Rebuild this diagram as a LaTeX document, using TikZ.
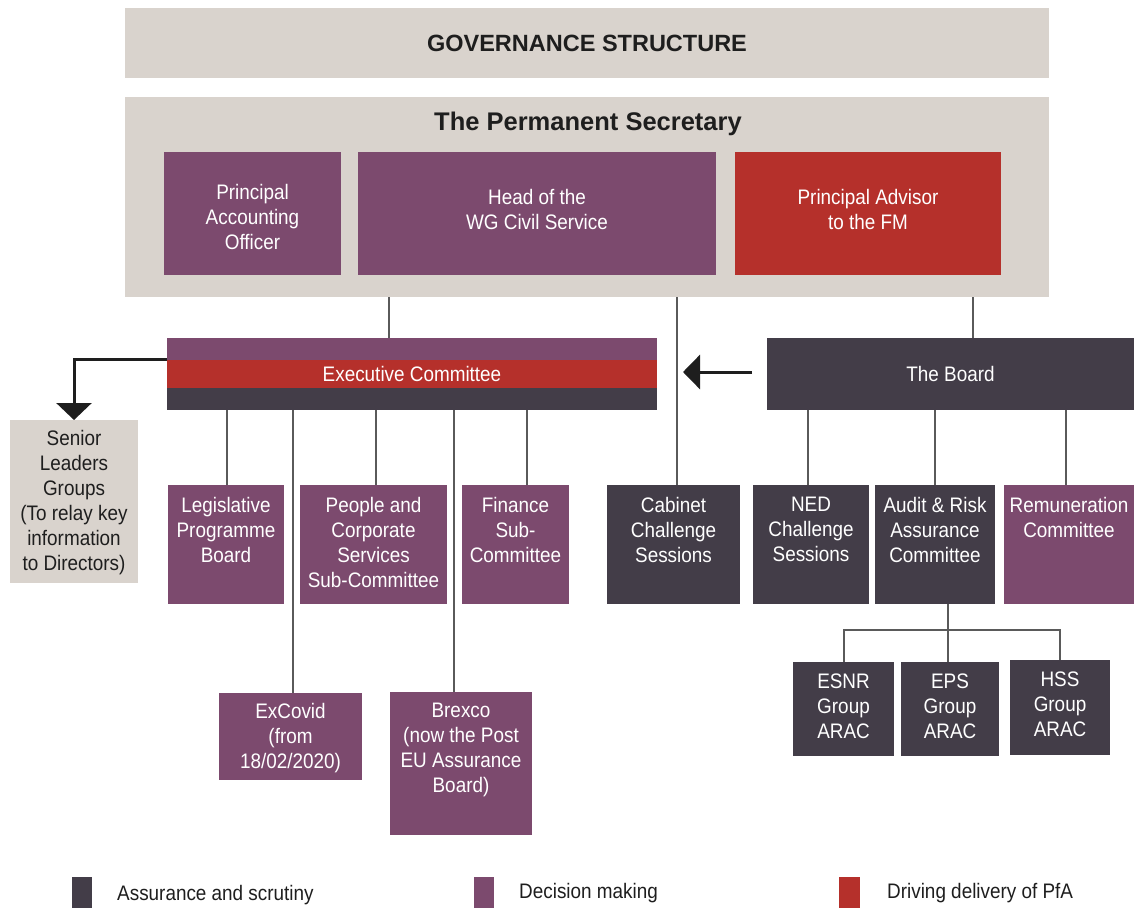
\documentclass[tikz,border=0pt]{standalone}
\usepackage{fontspec}
\setmainfont{Liberation Sans}
\newfontfamily\bxf[FakeStretch=0.9]{Liberation Sans}
\usetikzlibrary{arrows.meta,calc}
\definecolor{beige}{HTML}{D9D3CD}
\definecolor{purp}{HTML}{7C4A6E}
\definecolor{redd}{HTML}{B5302B}
\definecolor{dark}{HTML}{433D48}
\definecolor{lin}{HTML}{5A5A5A}
\definecolor{ink}{HTML}{1E1E1E}
\newcommand\tb[4][12]{\parbox[c][#3pt][t]{#2pt}{\centering\vspace*{#1pt}#4\par}}
\begin{document}
\begin{tikzpicture}[x=1pt,y=-1pt,
  bx/.style={inner sep=0pt, outer sep=0pt, anchor=north west, text=white, font=\bxf\fontsize{21}{25}\selectfont},
  pbx/.style={bx, fill=purp},
  dbx/.style={bx, fill=dark},
  rbx/.style={bx, fill=redd},
  gbx/.style={bx, fill=beige, text=ink},
  conn/.style={draw=lin, line width=2pt},
  arr/.style={draw=ink, line width=3pt, -{Triangle[width=35pt,length=17pt]}},
  lgd/.style={anchor=west, inner sep=0pt, text=ink, font=\bxf\fontsize{21}{25}\selectfont},
  hd/.style={inner sep=0pt, text=ink, font=\bfseries\fontsize{23.5}{28}\selectfont},
]
\useasboundingbox (0,0) rectangle (1134,908);

% x positions of connectors
\coordinate (xps1) at (389,0);
\coordinate (xcab) at (677,0);
\coordinate (xbrd) at (973,0);
\coordinate (xlpb) at (227,0);
\coordinate (xexc) at (293,0);
\coordinate (xpcs) at (376,0);
\coordinate (xbrx) at (454,0);
\coordinate (xfin) at (527,0);
\coordinate (xned) at (808,0);
\coordinate (xarc) at (935,0);
\coordinate (xrem) at (1066,0);
\coordinate (bus) at (948,630);

% header boxes
\node[gbx, minimum width=924pt, minimum height=70pt] (title) at (125,8) {};
\node[hd] (titletext) at (title.center) {GOVERNANCE STRUCTURE};
\node[gbx, minimum width=924pt, minimum height=200pt] (ps) at (125,97) {};
\node[hd, font=\bfseries\fontsize{25.5}{30}\selectfont] (pstext) at (588,124) {The Permanent Secretary};

\node[pbx] (pao) at (164,152) {\tb[32]{177}{123}{Principal\\Accounting\\Officer}};
\node[pbx] (head) at (358,152) {\tb[37]{358}{123}{Head of the\\WG Civil Service}};
\node[rbx] (pafm) at (735,152) {\tb[37]{266}{123}{Principal Advisor\\to the FM}};

% connectors
\draw[conn] (ps.south -| xps1) -- (xps1 |- 0,338);
\draw[conn] (ps.south -| xcab) -- (xcab |- 0,485);
\draw[conn] (ps.south -| xbrd) -- (xbrd |- 0,338);

% executive committee
\node[dbx, minimum width=490pt, minimum height=72pt] (exec) at (167,338) {};
\fill[purp] (exec.north west) rectangle ([yshift=-22pt]exec.north east);
\fill[redd] ([yshift=-22pt]exec.north west) rectangle ([yshift=-50pt]exec.north east);
\node[bx, anchor=center] (exectext) at (exec.center) {Executive Committee};

% the board
\node[dbx, minimum width=367pt, minimum height=72pt] (board) at (767,338) {The Board};

% second row
\node[pbx] (lpb) at (168,485) {\tb{116}{119}{Legislative\\Programme\\Board}};
\node[pbx] (pcs) at (300,485) {\tb{147}{119}{People and\\Corporate\\Services\\Sub-Committee}};
\node[pbx] (fin) at (462,485) {\tb{107}{119}{Finance\\Sub-\\Committee}};
\node[dbx] (cab) at (607,485) {\tb{133}{119}{Cabinet\\Challenge\\Sessions}};
\node[dbx] (ned) at (753,485) {\tb{116}{119}{NED\\Challenge\\Sessions}};
\node[dbx] (arc) at (875,485) {\tb{120}{119}{Audit \& Risk\\Assurance\\Committee}};
\node[pbx] (rem) at (1004,485) {\tb{130}{119}{Remuneration\\Committee}};

\node[gbx] (slg) at (10,420) {\tb[10]{128}{163}{Senior\\Leaders\\Groups\\(To relay key\\information\\to Directors)}};

\node[pbx] (exc) at (219,693) {\tb[10]{143}{87}{ExCovid\\(from\\18/02/2020)}};
\node[pbx] (brx) at (390,692) {\tb[11]{142}{143}{Brexco\\(now the Post\\EU Assurance\\Board)}};

\node[dbx] (esnr) at (793,662) {\tb{101}{94}{ESNR\\Group\\ARAC}};
\node[dbx] (eps) at (901,662) {\tb{98}{94}{EPS\\Group\\ARAC}};
\node[dbx] (hss) at (1010,660) {\tb{100}{95}{HSS\\Group\\ARAC}};

% exec children
\draw[conn] (exec.south -| xlpb) -- (lpb.north -| xlpb);
\draw[conn] (exec.south -| xexc) -- (exc.north -| xexc);
\draw[conn] (exec.south -| xpcs) -- (pcs.north -| xpcs);
\draw[conn] (exec.south -| xbrx) -- (brx.north -| xbrx);
\draw[conn] (exec.south -| xfin) -- (fin.north -| xfin);

% board children
\draw[conn] (board.south -| xned) -- (ned.north -| xned);
\draw[conn] (board.south -| xarc) -- (arc.north -| xarc);
\draw[conn] (board.south -| xrem) -- (rem.north -| xrem);

% ARAC tree
\draw[conn] (arc.south -| bus) -- (eps.north -| bus);
\draw[conn] (esnr.north) |- (bus) -| (hss.north);

% arrows
\draw[arr] ([yshift=-21pt]exec.north west) -| (slg.north);
\draw[arr, -{Triangle[width=34pt,length=17pt]}] ([xshift=-15pt,yshift=2pt]board.west) -- ([xshift=26pt,yshift=2pt]exec.east);

% legend
\node[dbx, minimum width=20pt, minimum height=31pt] (l1) at (72,877) {};
\node[lgd] (l1t) at (117,895) {Assurance and scrutiny};
\node[pbx, minimum width=20pt, minimum height=31pt] (l2) at (474,877) {};
\node[lgd] (l2t) at (519,893) {Decision making};
\node[rbx, minimum width=21pt, minimum height=31pt] (l3) at (839,877) {};
\node[lgd] (l3t) at (887,893) {Driving delivery of PfA};
\end{tikzpicture}
\end{document}
